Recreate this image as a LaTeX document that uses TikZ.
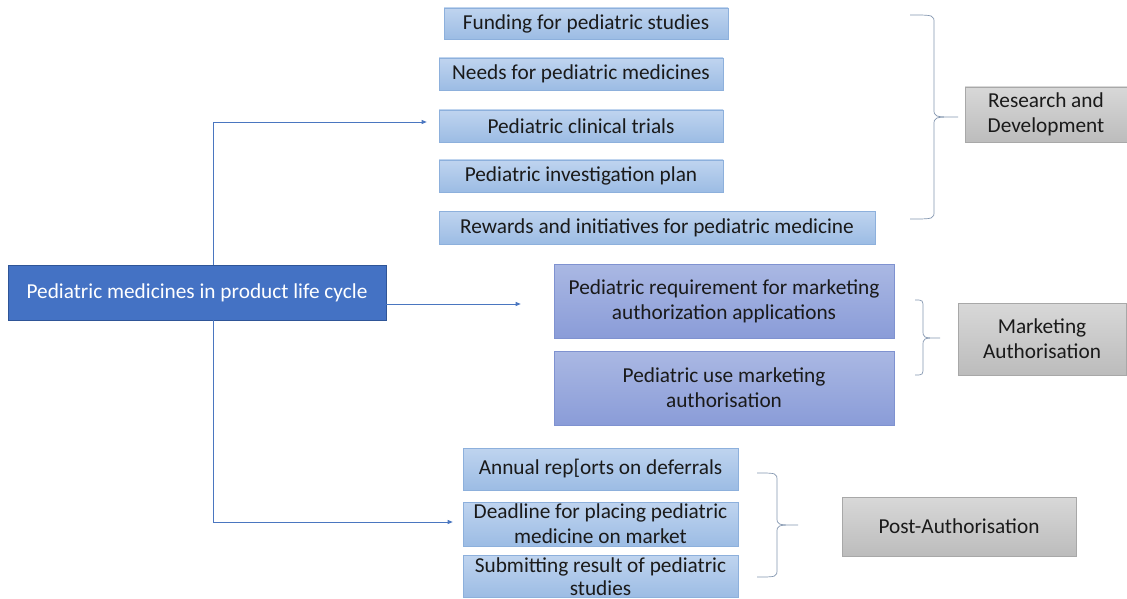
\documentclass[tikz,border=0pt]{standalone}
\usepackage{fontspec}
\setmainfont{Carlito}
\usetikzlibrary{arrows.meta}
\definecolor{mainblue}{HTML}{4472C4}
\definecolor{mainborder}{HTML}{2F5597}
\definecolor{lbtop}{HTML}{BFD4EF}
\definecolor{lbbot}{HTML}{9CBCE4}
\definecolor{lbdraw}{HTML}{8DB0DC}
\definecolor{pbtop}{HTML}{AAB8E3}
\definecolor{pbbot}{HTML}{8A9CD8}
\definecolor{pbdraw}{HTML}{7F92D0}
\definecolor{gtop}{HTML}{D8D8D8}
\definecolor{gbot}{HTML}{BCBCBC}
\definecolor{gdraw}{HTML}{A8A8A8}
\definecolor{arrowc}{HTML}{4A76C0}
\definecolor{bracec}{HTML}{8497B0}
\definecolor{txt}{HTML}{1A1A1A}
\tikzset{
  x=1pt, y=-1pt,
  every node/.style={font=\fontsize{21.3}{25}\selectfont, text=txt, inner sep=0pt, align=center},
  mainbox/.style={fill=mainblue, draw=mainborder, line width=0.6pt, text=white},
  lbox/.style={top color=lbtop, bottom color=lbbot, draw=lbdraw, line width=0.6pt},
  pbox/.style={top color=pbtop, bottom color=pbbot, draw=pbdraw, line width=0.6pt},
  gbox/.style={top color=gtop, bottom color=gbot, draw=gdraw, line width=0.6pt},
  arr/.style={draw=arrowc, line width=0.8pt, -{Triangle[length=5pt,width=4pt]}},
  bracestyle/.style={draw=bracec, line width=0.7pt},
}
\newcommand{\myrbrace}[6]{% x0, xv, xt, ytop, ymid, ybot
  \draw[bracestyle] (#1,#4) .. controls (#2,#4) .. (#2,#4+8) -- (#2,#5-8)
    .. controls (#2,#5) .. (#3,#5) .. controls (#2,#5) .. (#2,#5+8) -- (#2,#6-8)
    .. controls (#2,#6) .. (#1,#6);}
\begin{document}
\begin{tikzpicture}
\useasboundingbox (0,0) rectangle (1127,599);
\fill[white] (0,0) rectangle (1127,599);

\node[mainbox, minimum width=378pt, minimum height=55pt] (main) at (197,292.5) {Pediatric medicines in product life cycle};

\node[lbox, minimum width=284pt, minimum height=31pt] (fund) at (586,23.5) {Funding for pediatric studies};
\node[lbox, minimum width=284pt, minimum height=32pt] (needs) at (581,74) {Needs for pediatric medicines};
\node[lbox, minimum width=284pt, minimum height=32pt] (trials) at (581,126) {Pediatric clinical trials};
\node[lbox, minimum width=284pt, minimum height=32pt] (plan) at (581,176) {Pediatric investigation plan};
\node[lbox, minimum width=436pt, minimum height=33pt] (rew) at (657,227.5) {Rewards and initiatives for pediatric medicine};

\node[pbox, minimum width=340pt, minimum height=74pt] (req) at (724,301) {Pediatric requirement for marketing\\authorization applications};
\node[pbox, minimum width=340pt, minimum height=74pt] (use) at (724,388) {Pediatric use marketing\\authorisation};

\node[lbox, minimum width=275pt, minimum height=42pt] (ann) at (600.5,469) {Annual rep[orts on deferrals};
\node[lbox, minimum width=275pt, minimum height=44pt] (dead) at (600.5,524) {Deadline for placing pediatric\\medicine on market};
\node[lbox, minimum width=275pt, minimum height=42pt, font=\fontsize{21.3}{23}\selectfont] (sub) at (600.5,576.5) {Submitting result of pediatric\\studies};

\node[gbox, minimum width=162pt, minimum height=55pt] (rd) at (1046,114.5) {Research and\\Development};
\node[gbox, minimum width=168pt, minimum height=72pt] (ma) at (1042,339) {Marketing\\Authorisation};
\node[gbox, minimum width=234pt, minimum height=59pt] (pa) at (959,526.5) {Post-Authorisation};

\draw[arr] ([xshift=16pt]main.north) |- ([xshift=-12pt,yshift=4pt]trials.west);
\draw[arr] ([yshift=-11.5pt]main.east) -- ([xshift=-33pt,yshift=-3pt]req.west);
\draw[arr] ([xshift=16pt]main.south) |- ([xshift=-10pt,yshift=2pt]dead.west);

\myrbrace{910}{934}{958}{15}{117}{219}
\myrbrace{915}{923}{940}{300}{338}{375}
\myrbrace{757}{777}{798}{473}{525}{577}
\end{tikzpicture}
\end{document}
